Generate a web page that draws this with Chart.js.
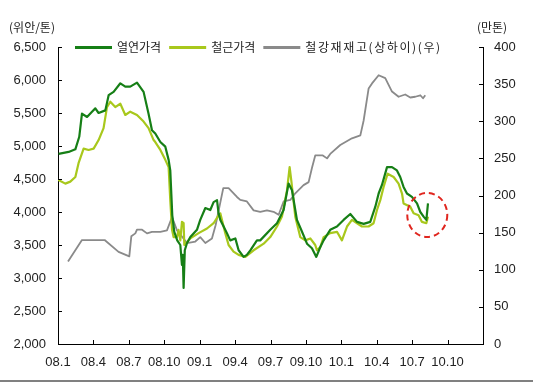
<!DOCTYPE html>
<html><head><meta charset="utf-8">
<script src="https://cdn.jsdelivr.net/npm/chart.js@4.4.1/dist/chart.umd.min.js"></script>
<style>
html,body{margin:0;padding:0;background:#fff;}
#wrap{position:relative;width:533px;height:382px;overflow:hidden;}
#bar{position:absolute;left:0;right:0;bottom:0;height:2px;background:#808080;}
</style></head><body>
<div id="wrap"><canvas id="c" width="533" height="382"></canvas><div id="bar"></div></div>
<script>
// ---- data ----
const xTickLabels = ['08.1','08.4','08.7','08.10','09.1','09.4','09.7','09.10','10.1','10.4','10.7','10.10'];
const leftAxisTitle = '(위안/톤)';
const rightAxisTitle = '(만톤)';
const seriesNames = ['열연가격','철근가격','철강재재고(상하이)(우)'];

// months since Jan 2008
const hrcMonths = [0.05,0.9,1.47,1.8,2.03,2.46,2.88,3.16,3.44,4.01,4.29,4.71,5.28,5.7,6.12,6.69,7.25,7.67,7.96,8.24,8.67,9.09,9.37,9.51,9.68,9.85,10.1,10.36,10.5,10.57,10.64,10.74,10.93,11.21,11.77,12.05,12.48,12.9,13.18,13.47,13.6,13.75,14.03,14.31,14.59,15.02,15.3,15.72,16.0,16.29,16.85,17.13,17.98,18.55,19.11,19.53,19.82,20.24,20.67,21.09,21.51,21.88,22.22,22.5,23.06,23.63,24.19,24.76,25.33,25.89,26.45,26.88,27.16,27.44,27.87,28.29,28.71,28.99,29.27,29.56,29.98,30.41,30.69,30.97,31.2,31.34];
const hrcPrices = [4880,4910,4950,5140,5490,5440,5520,5570,5500,5540,5770,5820,5950,5900,5900,5960,5820,5490,5240,5190,5060,4990,4790,4630,3950,3700,3570,3500,3200,3350,2850,3420,3530,3620,3730,3880,4060,4030,4150,4180,3980,3880,3780,3680,3570,3600,3420,3320,3350,3420,3570,3570,3730,3830,4030,4430,4330,3880,3700,3520,3450,3320,3470,3570,3730,3780,3880,3970,3850,3820,3850,4080,4280,4410,4680,4680,4630,4530,4380,4280,4230,4130,4000,3930,3880,4130];

const rebarMonths = [0,0.62,1.04,1.47,1.74,2.17,2.59,3.02,3.44,3.86,4.15,4.43,4.85,5.28,5.7,6.12,6.69,7.25,7.67,8.1,8.24,8.67,9.09,9.37,9.51,9.66,9.79,10.08,10.21,10.36,10.5,10.64,10.7,10.78,11.21,11.91,12.62,13.18,13.6,13.75,13.89,14.17,14.45,14.87,15.3,15.87,16.57,17.42,17.98,18.55,18.97,19.4,19.62,19.76,20.1,20.52,20.95,21.37,21.79,21.94,22.22,22.5,23.06,23.63,24.05,24.48,24.9,25.33,25.75,26.31,26.73,27.02,27.3,27.58,27.92,28.43,28.85,29.14,29.27,29.84,30.12,30.54,30.83,31.2,31.34];
const rebarPrices = [4490,4430,4460,4530,4740,4960,4940,4960,5090,5270,5590,5670,5590,5640,5470,5520,5470,5370,5270,5090,5060,4940,4790,4680,4180,3730,3620,3620,3730,3570,3850,3830,3500,3520,3600,3680,3750,3830,3950,3980,3880,3680,3500,3400,3350,3320,3420,3520,3620,3780,3930,4330,4680,4480,3930,3620,3570,3600,3500,3420,3470,3620,3680,3700,3570,3780,3880,3830,3780,3780,3830,4030,4180,4380,4580,4530,4430,4280,4130,4080,3980,3950,3850,3830,3930];

const stockMonths = [0.85,2.03,3.95,5.13,6.04,6.21,6.55,6.69,7.12,7.54,7.96,8.67,9.23,9.66,10.08,10.93,11.63,12.05,12.48,13.04,13.35,14.0,14.45,15.16,15.44,16.0,16.57,17.13,17.7,18.26,18.69,19.11,19.68,20.1,20.8,21.23,21.51,21.79,22.43,22.79,23.06,23.91,24.9,25.61,25.89,26.31,26.6,27.16,27.72,28.29,28.85,29.41,29.84,30.26,30.69,30.92,31.11];
const stockValues = [111,140,140,124,118,145,149,154,154,149,151,151,153,171,153,136,138,144,136,142,160,210,210,198,194,192,180,178,180,178,174,192,194,203,214,218,237,254,254,250,256,268,277,281,301,344,351,362,358,340,333,336,332,333,335,331,335];

// highlighted point (dashed circle) in data units
const highlightMonth = 31.28;
const highlightPrice = 3955;

// ---- chart ----
const pair = (xs, ys) => xs.map((x, i) => ({x, y: ys[i]}));
const colors = ['#167f16', '#a8c81c', '#8a8a8a'];
const numFont = {family: 'Liberation Sans, Arial, sans-serif', size: 13};
const krFont = '12px "Noto Sans CJK KR", sans-serif';
const txtColor = '#222';

const innerTicks = {
  id: 'innerTicks',
  afterDraw(chart) {
    const ctx = chart.ctx, a = chart.chartArea, L = 4;
    ctx.save();
    ctx.strokeStyle = '#000'; ctx.lineWidth = 1;
    ctx.beginPath();
    chart.scales.x.ticks.forEach(t => {
      const px = Math.round(chart.scales.x.getPixelForValue(t.value)) + 0.5;
      ctx.moveTo(px, a.bottom); ctx.lineTo(px, a.bottom - L);
    });
    chart.scales.y.ticks.forEach(t => {
      const py = Math.round(chart.scales.y.getPixelForValue(t.value)) + 0.5;
      ctx.moveTo(a.left, py); ctx.lineTo(a.left + L, py);
    });
    chart.scales.y1.ticks.forEach(t => {
      const py = Math.round(chart.scales.y1.getPixelForValue(t.value)) + 0.5;
      ctx.moveTo(a.right, py); ctx.lineTo(a.right - L, py);
    });
    ctx.stroke();
    ctx.restore();
  }
};

const extras = {
  id: 'extras',
  afterDraw(chart) {
    const ctx = chart.ctx, a = chart.chartArea;
    ctx.save();
    // axis titles
    ctx.font = krFont; ctx.fillStyle = txtColor;
    ctx.textBaseline = 'middle'; ctx.textAlign = 'center';
    ctx.fillText(leftAxisTitle, 32, 27);
    ctx.fillText(rightAxisTitle, 492, 27);
    // legend
    let x = a.left + 17;
    const y = a.top + 0.5;
    ctx.textAlign = 'left';
    chart.data.datasets.forEach((ds, i) => {
      ctx.strokeStyle = ds.borderColor; ctx.lineWidth = 3;
      ctx.beginPath(); ctx.moveTo(x, y); ctx.lineTo(x + 37, y); ctx.stroke();
      x += 42;
      ctx.fillStyle = txtColor;
      const w = ctx.measureText(ds.label).width;
      const extra = i === 2 ? 1.6 : 0;
      ctx.letterSpacing = extra + 'px';
      ctx.fillText(ds.label, x, y);
      ctx.letterSpacing = '0px';
      x += w + extra * ds.label.length + 8;
    });
    // dashed highlight circle
    const cx = chart.scales.x.getPixelForValue(highlightMonth);
    const cy = chart.scales.y.getPixelForValue(highlightPrice);
    ctx.strokeStyle = '#e0261f'; ctx.lineWidth = 2; ctx.setLineDash([6, 4]);
    ctx.beginPath(); ctx.ellipse(cx, cy, 20, 22, 0, 0, Math.PI * 2); ctx.stroke();
    ctx.restore();
  }
};

new Chart(document.getElementById('c'), {
  type: 'line',
  data: {
    datasets: [
      {label: seriesNames[0], data: pair(hrcMonths, hrcPrices), borderColor: colors[0], borderWidth: 2.2, yAxisID: 'y'},
      {label: seriesNames[1], data: pair(rebarMonths, rebarPrices), borderColor: colors[1], borderWidth: 2.2, yAxisID: 'y'},
      {label: seriesNames[2], data: pair(stockMonths, stockValues), borderColor: colors[2], borderWidth: 1.8, yAxisID: 'y1'}
    ]
  },
  options: {
    responsive: false, animation: false, devicePixelRatio: 1,
    layout: {padding: {top: 47, left: 0, right: 0, bottom: 0}},
    elements: {point: {radius: 0}, line: {tension: 0, fill: false, borderJoinStyle: 'round'}},
    plugins: {legend: {display: false}, tooltip: {enabled: false}},
    scales: {
      x: {
        type: 'linear', min: 0, max: 36,
        afterBuildTicks: s => { s.ticks = Array.from({length: 13}, (_, i) => ({value: i * 3})); },
        ticks: {autoSkip: false, maxRotation: 0, padding: 11, font: numFont, color: txtColor,
          callback: v => xTickLabels[Math.round(v / 3)] ?? ''},
        grid: {display: false, drawTicks: false},
        border: {display: true, color: '#000', width: 1},
        afterFit: s => { s.height = 38; }
      },
      y: {
        position: 'left', min: 2000, max: 6500,
        afterBuildTicks: s => { s.ticks = Array.from({length: 10}, (_, i) => ({value: 2000 + i * 500})); },
        ticks: {padding: 12, font: numFont, color: txtColor, callback: v => v.toLocaleString('en-US')},
        grid: {display: false, drawTicks: false},
        border: {display: true, color: '#000', width: 1},
        afterFit: s => { s.width = 58; }
      },
      y1: {
        position: 'right', min: 0, max: 400,
        afterBuildTicks: s => { s.ticks = Array.from({length: 9}, (_, i) => ({value: i * 50})); },
        ticks: {padding: 11, font: numFont, color: txtColor},
        grid: {display: false, drawTicks: false},
        border: {display: true, color: '#000', width: 1},
        afterFit: s => { s.width = 50; }
      }
    }
  },
  plugins: [innerTicks, extras]
});
</script>
</body></html>
